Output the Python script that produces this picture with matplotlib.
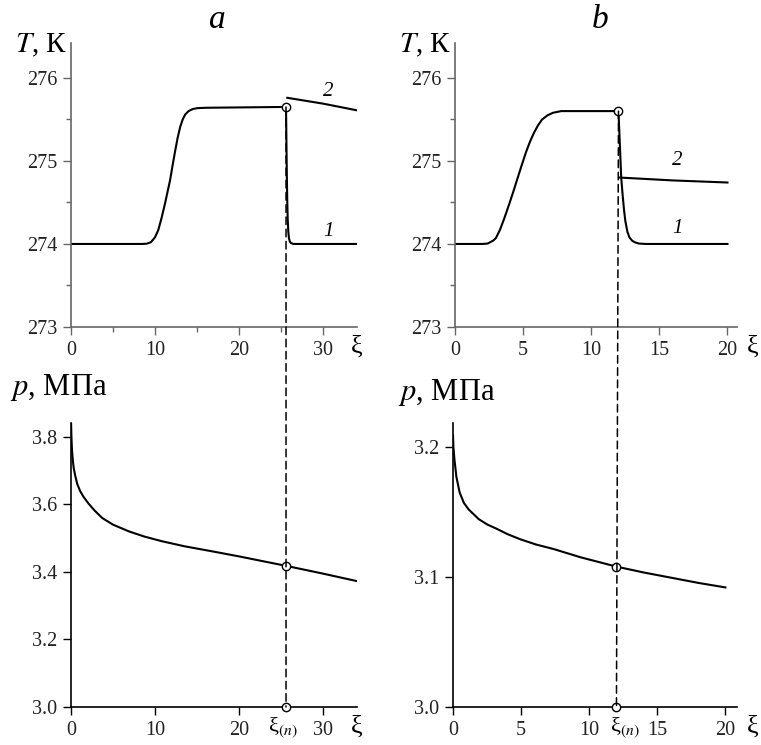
"""
Temperature and pressure profiles along xi for two cases (a, b).
"""

import matplotlib
matplotlib.use("Agg")
import matplotlib.pyplot as plt
import matplotlib.transforms as mtransforms
from matplotlib.patches import ConnectionPatch
from matplotlib.ticker import MultipleLocator

plt.rcParams["font.family"] = ["Liberation Serif", "DejaVu Serif"]
plt.rcParams["mathtext.fontset"] = "stix"

# ------------------------------------------------------------------ #
#  Data
# ------------------------------------------------------------------ #

# case a
xi_n_a = 25.6
xi_a_T1 = [0, 8.5, 9.0, 9.5, 10.0, 10.4, 10.8, 11.2, 11.5, 11.8, 12.1, 12.4, 12.7,
           13.0, 13.3, 13.6, 14.0, 14.5, 15.0, 16.0, 25.6,
           25.65, 25.7, 25.75, 25.8, 25.87, 25.95, 26.05, 26.2, 26.5, 34.0]
T_a1 = [274.0, 274.0, 274.003, 274.02, 274.08, 274.17, 274.32, 274.49, 274.63,
        274.77, 274.95, 275.12, 275.28, 275.41, 275.5, 275.56, 275.6, 275.625,
        275.635, 275.64, 275.65,
        275.2, 274.8, 274.5, 274.3, 274.15, 274.07, 274.03, 274.01, 274.0, 274.0]
xi_a_T2 = [25.75, 30.0, 34.0]
T_a2 = [275.76, 275.69, 275.61]
xi_a_p = [0, 0.05, 0.12, 0.22, 0.32, 0.5, 0.75, 1.1, 1.5, 2.1, 2.8, 3.7, 5.0, 6.9,
          8.7, 10.8, 13.5, 16.8, 20.0, 23.0, 25.6, 30.0, 34.0]
p_a = [3.85, 3.80, 3.76, 3.73, 3.708, 3.685, 3.66, 3.639, 3.622, 3.602, 3.582, 3.56,
       3.54, 3.52, 3.505, 3.491, 3.476, 3.461, 3.446, 3.431, 3.418, 3.395, 3.373]

# case b
xi_n_b = 12.0
xi_b_T1 = [0, 2.0, 2.4, 2.8, 3.0, 3.3, 3.6, 4.0, 4.3, 4.55, 4.9, 5.2, 5.5, 5.8,
           6.1, 6.4, 6.8, 7.2, 7.8, 12.0,
           12.05, 12.1, 12.15, 12.2, 12.3, 12.4, 12.5, 12.65, 12.8, 13.0, 13.2,
           13.5, 14.0, 20.0]
T_b1 = [274.0, 274.0, 274.005, 274.04, 274.07, 274.17, 274.3, 274.49, 274.64,
        274.77, 274.95, 275.1, 275.23, 275.34, 275.43, 275.5, 275.55, 275.58,
        275.6, 275.6,
        275.4, 275.2, 275.0, 274.8, 274.6, 274.42, 274.28, 274.15, 274.08, 274.04,
        274.02, 274.005, 274.0, 274.0]
xi_b_T2 = [12.05, 16.0, 20.0]
T_b2 = [274.8, 274.765, 274.74]
xi_b_p = [0, 0.03, 0.1, 0.25, 0.49, 0.8, 1.15, 1.88, 2.5, 3.23, 4.0, 4.95, 6.1,
          7.4, 9.36, 12.0, 14.0, 16.0, 18.0, 20.0]
p_b = [3.209, 3.20, 3.191, 3.177, 3.165, 3.157, 3.152, 3.1446, 3.1405, 3.137, 3.133,
       3.129, 3.125, 3.1215, 3.1152, 3.108, 3.1035, 3.0995, 3.0955, 3.092]

FIG_W, FIG_H = 761, 745


def _rect(x0, y0, x1, y1):
    """pixel box (top-left origin) -> figure fraction rect"""
    return [x0 / FIG_W, 1 - y1 / FIG_H, (x1 - x0) / FIG_W, (y1 - y0) / FIG_H]


def _style(ax, color):
    for side in ("top", "right"):
        ax.spines[side].set_visible(False)
    for side in ("left", "bottom"):
        ax.spines[side].set_color(color)
        ax.spines[side].set_linewidth(1.2)
    ax.tick_params(which="both", direction="out", color=color, labelsize=14.5,
                   labelcolor="#222222", width=1.0)
    ax.tick_params(which="major", length=6, pad=4)
    ax.tick_params(which="minor", length=3.5)


fig = plt.figure(figsize=(FIG_W / 100, FIG_H / 100), dpi=100)

ax_ta = fig.add_axes(_rect(71, 43, 357, 327))
ax_tb = fig.add_axes(_rect(455, 43, 737, 327))
ax_pa = fig.add_axes(_rect(71, 423, 357, 707))
ax_pb = fig.add_axes(_rect(453, 423, 737, 707))

line_kw = dict(color="black", linewidth=1.5)
mk_kw = dict(marker="o", markersize=6, markerfacecolor="white",
             markeredgecolor="black", markeredgewidth=1.0, linestyle="none",
             zorder=5, clip_on=False)

# --- temperature panels ---
for ax, xs1, ys1, xs2, ys2, xmax in [
        (ax_ta, xi_a_T1, T_a1, xi_a_T2, T_a2, 34.05),
        (ax_tb, xi_b_T1, T_b1, xi_b_T2, T_b2, 20.7)]:
    _style(ax, "#666666")
    ax.plot(xs1, ys1, **line_kw)
    ax.plot(xs2, ys2, **line_kw)
    ax.set_xlim(0, xmax)
    ax.set_ylim(273, 276.42)
    ax.set_yticks([273, 274, 275, 276])
    ax.yaxis.set_minor_locator(MultipleLocator(0.5))
    ax.text(-0.012, 0.99, "$T$, К", transform=ax.transAxes, ha="right",
            va="center", fontsize=21)

ax_ta.set_xticks([0, 10, 20, 30])
ax_ta.xaxis.set_minor_locator(MultipleLocator(5))
ax_tb.set_xticks([0, 5, 10, 15, 20])

# --- pressure panels ---
for ax, xs, ys, ylim, yticks, xmax in [
        (ax_pa, xi_a_p, p_a, 3.841, [3.0, 3.2, 3.4, 3.6, 3.8], 34.05),
        (ax_pb, xi_b_p, p_b, 3.2185, [3.0, 3.1, 3.2], 20.85)]:
    _style(ax, "black")
    ax.plot(xs, ys, **line_kw)
    ax.set_xlim(0, xmax)
    ax.set_ylim(3.0, ylim)
    ax.set_yticks(yticks)
    ax.set_yticklabels([f"{v:.1f}" for v in yticks])

ax_pa.set_xticks([0, 10, 20, 30])
ax_pb.set_xticks([0, 5, 10, 15, 20])

fig.text(10 / FIG_W, 1 - 388 / FIG_H, "$p$, МПа", ha="left", va="center", fontsize=22)
fig.text(398 / FIG_W, 1 - 392 / FIG_H, "$p$, МПа", ha="left", va="center", fontsize=22)

# xi labels at axis ends
for ax, xf in [(ax_ta, 1.0), (ax_pa, 1.0), (ax_tb, 1.055), (ax_pb, 1.055)]:
    ax.text(xf, -0.03, "ξ", transform=ax.transAxes, ha="center", va="top",
            fontsize=19)

# curve numbers
ax_ta.text(30.6, 275.84, "2", fontsize=15, style="italic", ha="center", va="center")
ax_ta.text(30.6, 274.15, "1", fontsize=15, style="italic", ha="center", va="center")
ax_tb.text(16.3, 275.0, "2", fontsize=15, style="italic", ha="center", va="center")
ax_tb.text(16.3, 274.19, "1", fontsize=15, style="italic", ha="center", va="center")

# xi_(n) markers and dashed connectors
for ax_t, ax_p, xs_t, ys_t, xs_p, ys_p, xn, shift in [
        (ax_ta, ax_pa, xi_a_T1, T_a1, xi_a_p, p_a, xi_n_a, -2),
        (ax_tb, ax_pb, xi_b_T1, T_b1, xi_b_p, p_b, xi_n_b, 6)]:
    t_n = ys_t[xs_t.index(xn)]
    p_n = ys_p[xs_p.index(xn)]
    con = ConnectionPatch(xyA=(xn, t_n), coordsA=ax_t.transData,
                          xyB=(xn, 3.0), coordsB=ax_p.transData,
                          linestyle=(0, (5, 3)), linewidth=1.1, color="black",
                          zorder=1)
    fig.add_artist(con)
    ax_t.plot([xn], [t_n], **mk_kw)
    ax_p.plot([xn], [p_n], **mk_kw)
    ax_p.plot([xn], [3.0], **mk_kw)
    trans = mtransforms.offset_copy(ax_p.get_xaxis_transform(), fig=fig,
                                    x=shift, y=0, units="points")
    ax_p.text(xn, -0.03, "ξ$_{(n)}$", transform=trans,
              ha="center", va="top", fontsize=16)

fig.text(217 / FIG_W, 1 - 20 / FIG_H, "a", style="italic", fontsize=24,
         ha="center", va="center")
fig.text(600 / FIG_W, 1 - 20 / FIG_H, "b", style="italic", fontsize=24,
         ha="center", va="center")

fig.savefig("out.png", dpi=100)
